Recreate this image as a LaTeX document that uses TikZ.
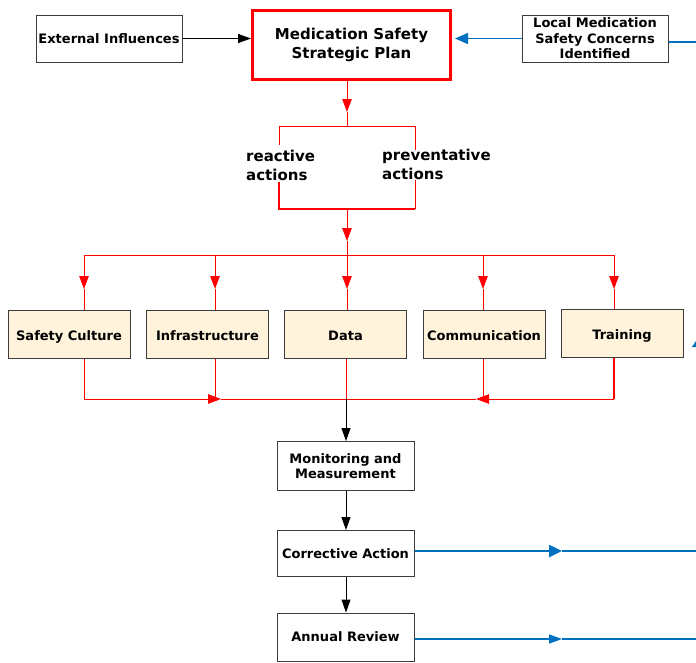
\documentclass[tikz,border=0pt]{standalone}
\usepackage{fontspec}
\setmainfont{DejaVu Sans}
\usetikzlibrary{arrows.meta}
\definecolor{cream}{HTML}{FFF4DB}
\definecolor{myblue}{HTML}{0070C0}
\definecolor{edgegray}{HTML}{3C3C3C}
\begin{document}
\begin{tikzpicture}[x=1pt,y=-1pt,
  box/.style={draw=edgegray, line width=1pt, fill=white, align=center, inner sep=0pt,
    font=\bfseries\fontsize{13}{15.5}\selectfont},
  cat/.style={box, fill=cream, minimum width=122pt, minimum height=48pt, text height=12pt, text depth=0pt},
  flow/.style={box, minimum width=137pt},
  rl/.style={draw=red, line width=1pt},
  rlw/.style={draw=red, line width=2pt},
  bl/.style={draw=black, line width=1pt},
  tipr/.style={-{Triangle[length=13pt,width=9.5pt]}},
  tipb/.style={-{Triangle[length=13pt,width=9pt]}},
  tipbl/.style={-{Triangle[length=13pt,width=11pt]}},
  lbl/.style={anchor=north west, align=left, inner sep=0pt, font=\bfseries\fontsize{15}{19}\selectfont},
]
\useasboundingbox (0,0) rectangle (696,662);
\clip (0,0) rectangle (696,662);

% top row
\node[box, minimum width=146pt, minimum height=47pt] (ext) at (109,38.5) {External Influences};
\node[box, draw=red, line width=3pt, minimum width=198pt, minimum height=69pt,
      font=\bfseries\fontsize{15}{19}\selectfont] (plan) at (351.5,45) {Medication Safety\\Strategic Plan};
\node[box, minimum width=146pt, minimum height=47pt] (local) at (595,38.5) {Local Medication\\Safety Concerns\\Identified};

\draw[bl, tipb] (ext.east) -- (ext.east -| plan.west);
\draw[myblue, line width=1.3pt, tipbl, shorten >=3pt] (local.west) -- (local.west -| plan.east);
\coordinate (rtop) at (700,42);
\draw[myblue, line width=1.3pt] ([yshift=-3.5pt]local.east) -- (rtop);

% bracket with actions
\coordinate (b1) at (347,126);
\coordinate (a1) at (347,112);
\draw[rl, tipr] (plan.south -| b1) -- (a1);
\draw[rl] (a1) -- (b1);
\draw[rl] (279,145) -- (279,126) -- (415,126) -- (415,150);
\node[lbl] (react) at (246,150) {reactive\\actions};
\node[lbl] (prev) at (382,149) {preventative\\actions};
\draw[rlw] (279,182) -- (279,209) -- (415,209);
\draw[rl] (415,209) -- (415,180);
\coordinate (b2) at (347,209);
\coordinate (a2) at (347,241);
\coordinate (b3) at (347,255);
\draw[rl, tipr] (b2) -- (a2);
\draw[rl] (a2) -- (b3);

% category boxes
\node[cat] (sc)   at (69,334)    {Safety Culture};
\node[cat] (inf)  at (207.5,334.5) {Infrastructure};
\node[cat] (data) at (345.5,334) {Data};
\node[cat] (comm) at (484,334.5) {Communication};
\node[cat] (train) at (622,333.5) {Training};

\coordinate (c1) at (84,255);
\coordinate (c2) at (215,255);
\coordinate (c3) at (347,255);
\coordinate (c4) at (483,255);
\coordinate (c5) at (614,255);
\draw[rl] (c1) -- (c5);
\foreach \c/\n in {c1/sc, c2/inf, c3/data, c4/comm, c5/train}{
  \draw[rl, tipr] (\c) -- ([yshift=-34pt]\c);
  \draw[rl] ([yshift=-34pt]\c) -- (\c |- \n.north);
}

% bottom collector
\coordinate (d1) at (84,399);
\coordinate (d2) at (215,399);
\coordinate (d3) at (346,399);
\coordinate (d4) at (483,399);
\coordinate (d5) at (614,399);
\coordinate (m1) at (221,399);
\coordinate (m2) at (476,399);
\draw[rl, tipr] (sc.south -| d1) -- (d1) -- (m1);
\draw[rl] (m1) -- (m2);
\draw[rlw] (train.south -| d5) -- (d5);
\draw[rl, tipr] (d5) -- (m2);
\draw[rl] (inf.south -| d2) -- (d2);
\draw[rl] (comm.south -| d4) -- (d4);
\draw[rl] (data.south -| d3) -- (d3);

% flow column
\node[flow, minimum height=49pt] (mon) at (345.5,466) {Monitoring and\\Measurement};
\node[flow, minimum height=46pt] (corr) at (345.5,553.5) {Corrective Action};
\node[flow, minimum height=48pt] (ann) at (345.5,637) {Annual Review};

\draw[bl, tipb] (d3) -- (d3 |- mon.north);
\draw[bl, tipb] (mon.south -| d3) -- (d3 |- corr.north);
\draw[bl, tipb] (corr.south -| d3) -- (d3 |- ann.north);

\coordinate (e1) at (562,551);
\coordinate (r1) at (700,551);
\draw[myblue, line width=2.5pt, -{Triangle[length=13pt,width=12pt]}] ([yshift=2.5pt]corr.east) -- (e1);
\draw[myblue, line width=2.5pt] (e1) -- (r1);
\coordinate (e2) at (562,639);
\coordinate (r2) at (700,639);
\draw[myblue, line width=1.3pt, -{Triangle[length=13pt,width=9pt]}] ([yshift=-2pt]ann.east) -- (e2);
\draw[myblue, line width=1.3pt] (e2) -- (r2);

% partial arrowhead at right edge
\coordinate (u1) at (701,420);
\coordinate (u2) at (701,334);
\draw[myblue, line width=1.3pt, -{Triangle[length=13pt,width=18pt]}] (u1) -- (u2);
\end{tikzpicture}
\end{document}
